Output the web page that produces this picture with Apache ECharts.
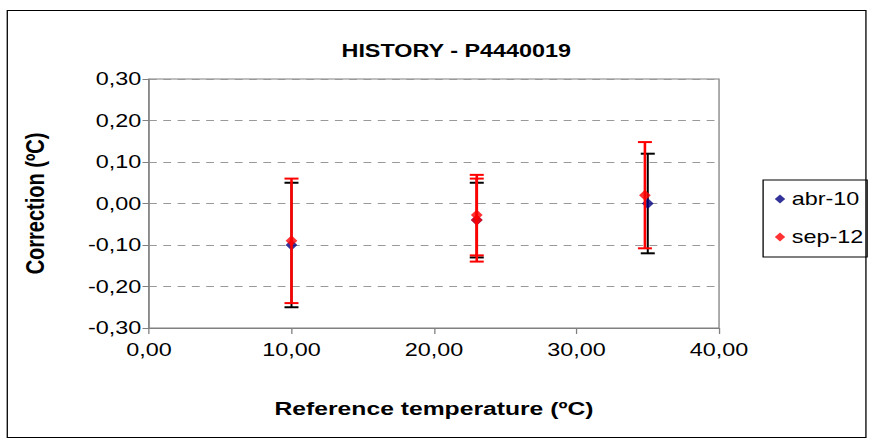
<!DOCTYPE html>
<html>
<head>
<meta charset="UTF-8">
<title>HISTORY - P4440019</title>
<script src="https://cdn.jsdelivr.net/npm/echarts@6/dist/echarts.min.js"></script>
<style>
  html, body { margin: 0; padding: 0; background: #fff; overflow: hidden; }
  /* the original picture is stretched sideways, so draw narrower and stretch it */
  #main { width: 671px; height: 445px; transform: scaleX(1.3); transform-origin: 0 0; }
</style>
</head>
<body>
<div id="main"></div>
<script>
// abr-10 series
var abrX = [10, 23, 35];
var abrY = [-0.10, -0.04, 0.00];
var abrErr = [0.15, 0.09, 0.12];

// sep-12 series
var sepX = [10, 23, 23, 34.8];
var sepY = [-0.09, -0.04, -0.028, 0.02];
var sepErr = [0.15, 0.10, 0.097, 0.128];

var seriesNames = ['abr-10', 'sep-12'];
var xTicks = [0, 10, 20, 30, 40];
var yTicks = [-0.3, -0.2, -0.1, 0, 0.1, 0.2, 0.3];

var SX = 1.3; // horizontal stretch
var font = 'Arial, "Liberation Sans", sans-serif';

function fmt(v) {
  return v.toFixed(2).replace('.', ',');
}

function pts(xs, ys) {
  return xs.map(function (x, i) { return [x, ys[i]]; });
}
function bars(xs, ys, es) {
  return xs.map(function (x, i) { return [x, ys[i] - es[i], ys[i] + es[i]]; });
}

function errRender(color, lw) {
  return function (params, api) {
    var lo = api.coord([api.value(0), api.value(1)]);
    var hi = api.coord([api.value(0), api.value(2)]);
    var w = 7 / SX;
    return {
      type: 'group',
      children: [
        { type: 'line', shape: { x1: lo[0], y1: lo[1], x2: hi[0], y2: hi[1] }, style: { stroke: color, lineWidth: lw / SX } },
        { type: 'line', shape: { x1: lo[0] - w, y1: lo[1], x2: lo[0] + w, y2: lo[1] }, style: { stroke: color, lineWidth: 2 } },
        { type: 'line', shape: { x1: hi[0] - w, y1: hi[1], x2: hi[0] + w, y2: hi[1] }, style: { stroke: color, lineWidth: 2 } }
      ]
    };
  };
}

var chart = echarts.init(document.getElementById('main'), null, { renderer: 'svg' });
chart.setOption({
  backgroundColor: '#fff',
  animation: false,
  graphic: [{
    type: 'rect', shape: { x: 5.6, y: 10.5, width: 660.5, height: 427 },
    style: { fill: 'none', stroke: '#000', lineWidth: 1 }, z: -1
  }],
  title: {
    text: 'HISTORY - P4440019',
    left: 346, top: 37, textAlign: 'center',
    textStyle: { fontFamily: font, fontSize: 18, fontWeight: 'bold', color: '#000' }
  },
  legend: {
    data: seriesNames.map(function (n) { return { name: n, icon: 'diamond' }; }),
    orient: 'vertical',
    left: 587, top: 180,
    itemWidth: 8, itemHeight: 9, itemGap: 20,
    padding: [10, 3, 11, 9],
    borderColor: '#000', borderWidth: 1,
    textStyle: { fontFamily: font, fontSize: 18, color: '#000' }
  },
  grid: {
    left: 114.6, top: 79, width: 438.5, height: 249,
    show: true, borderColor: '#808080', borderWidth: 1, backgroundColor: '#fff'
  },
  xAxis: {
    type: 'value', min: xTicks[0], max: xTicks[xTicks.length - 1], interval: 10,
    name: 'Reference temperature (ºC)', nameLocation: 'middle', nameGap: 71,
    nameTextStyle: { fontFamily: font, fontSize: 19, fontWeight: 'bold', color: '#000' },
    axisLine: { onZero: false, lineStyle: { color: '#808080', width: 1 } },
    axisTick: { show: true, inside: false, length: 6, lineStyle: { color: '#808080' } },
    axisLabel: { formatter: fmt, fontFamily: font, fontSize: 18, color: '#000', margin: 13 },
    splitLine: { show: false }
  },
  yAxis: {
    type: 'value', min: yTicks[0], max: yTicks[yTicks.length - 1], interval: 0.1,
    name: 'Correction (ºC)', nameLocation: 'middle', nameGap: 78, nameRotate: 90,
    nameTextStyle: { fontFamily: font, fontSize: 20, fontWeight: 'bold', color: '#000' },
    axisLine: { show: true, onZero: false, lineStyle: { color: '#808080', width: 1 } },
    axisTick: { show: true, inside: false, length: 5, lineStyle: { color: '#808080' } },
    axisLabel: { formatter: fmt, fontFamily: font, fontSize: 18, color: '#000', margin: 6 },
    splitLine: { show: true, lineStyle: { color: '#999', type: [6, 5], width: 1 } }
  },
  series: [
    {
      name: seriesNames[0] + ' err', type: 'custom', renderItem: errRender('#000', 2),
      data: bars(abrX, abrY, abrErr), encode: { x: 0, y: [1, 2] }, z: 2, silent: true
    },
    {
      name: seriesNames[0], type: 'scatter', symbol: 'diamond', symbolSize: [9, 11],
      itemStyle: { color: '#000080' }, data: pts(abrX, abrY), z: 3
    },
    {
      name: seriesNames[1] + ' err', type: 'custom', renderItem: errRender('#ff0000', 2.6),
      data: bars(sepX, sepY, sepErr), encode: { x: 0, y: [1, 2] }, z: 4, silent: true
    },
    {
      name: seriesNames[1], type: 'scatter', symbol: 'diamond', symbolSize: [9, 11],
      itemStyle: { color: '#ff0000' }, data: pts(sepX, sepY), z: 5
    }
  ]
});
</script>
</body>
</html>
